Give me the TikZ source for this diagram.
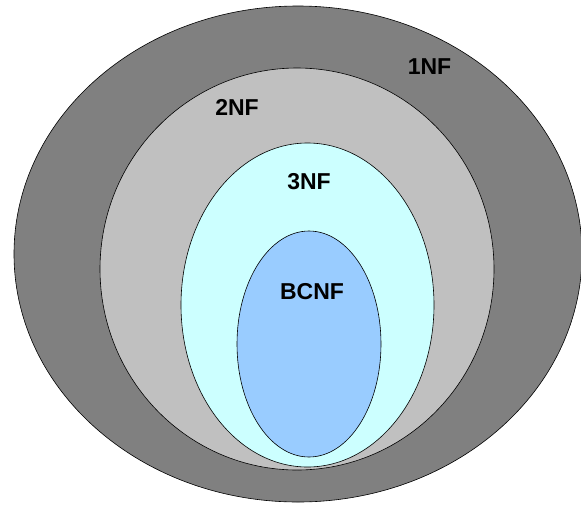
\documentclass[tikz,border=0pt]{standalone}
\usepackage{fontspec}
\setmainfont{Liberation Sans}
\begin{document}
\begin{tikzpicture}[x=1pt,y=-1pt,
  ell/.style={draw=black,line width=0.6pt},
  lbl/.style={font=\bfseries\fontsize{23}{26}\selectfont,inner sep=0pt}]
\useasboundingbox (0,0) rectangle (581,504);
\begin{scope}
\clip (0,0) rectangle (581,504);
\fill[white] (0,0) rectangle (581,504);
\draw[ell,fill={rgb,255:red,128;green,128;blue,128}] (298,254) ellipse [x radius=284,y radius=248];
\draw[ell,fill={rgb,255:red,192;green,192;blue,192}] (297,269) ellipse [x radius=197,y radius=201];
\draw[ell,fill={rgb,255:red,204;green,255;blue,255}] (307.5,305) ellipse [x radius=126.5,y radius=162];
\draw[ell,fill={rgb,255:red,153;green,204;blue,255}] (309,344) ellipse [x radius=72,y radius=113];
\end{scope}
\node[lbl] (l1) at (429.5,67) {1NF};
\node[lbl] (l2) at (237,107) {2NF};
\node[lbl] (l3) at (309,182) {3NF};
\node[lbl] (l4) at (312,292) {BCNF};
\end{tikzpicture}
\end{document}
